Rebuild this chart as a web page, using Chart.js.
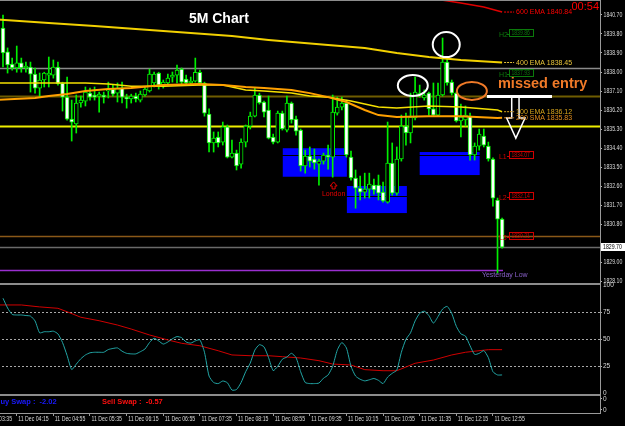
<!DOCTYPE html>
<html>
<head>
<meta charset="utf-8">
<script src="https://cdn.jsdelivr.net/npm/chart.js@4.4.1/dist/chart.umd.min.js"></script>
<style>
  html, body { margin: 0; padding: 0; background: #000; width: 625px; height: 426px; overflow: hidden; }
  #wrap { position: absolute; left: -30px; top: 0; width: 655px; height: 426px; }
</style>
</head>
<body>
<div id="wrap"><canvas id="chart" width="655" height="426"></canvas></div>
<script>
// 5 minute bars, 11 Dec 04:00 .. 13:05 (index 0 .. 109)
const OPEN = [1840.08,1838.95,1838.38,1838.19,1838.43,1838.19,1838.23,1837.90,1837.24,1837.62,
  1837.85,1837.85,1838.23,1837.48,1836.81,1835.77,1835.54,1836.53,1836.62,1837.00,
  1836.91,1836.86,1836.91,1837.10,1837.19,1837.00,1837.24,1836.81,1836.72,1836.86,
  1836.67,1836.91,1837.10,1837.48,1837.95,1837.38,1837.48,1837.76,1837.85,1838.14,
  1837.66,1837.48,1837.57,1837.99,1837.48,1836.01,1834.64,1834.92,1834.68,1835.40,
  1833.97,1834.16,1833.64,1834.68,1835.44,1835.91,1836.91,1836.58,1836.20,1834.92,
  1834.68,1836.05,1835.25,1836.53,1835.77,1835.25,1833.55,1834.02,1833.88,1833.64,
  1833.78,1834.07,1833.97,1836.05,1836.34,1836.53,1833.97,1832.98,1832.50,1832.31,
  1832.45,1832.64,1832.64,1832.31,1831.84,1833.69,1832.26,1833.88,1835.44,1835.11,
  1835.82,1836.91,1836.77,1837.00,1836.25,1835.96,1836.91,1838.47,1837.52,1837.00,
  1835.68,1835.73,1835.91,1834.07,1834.49,1834.97,1834.49,1833.88,1831.94,1831.03];
const HIGH = [1840.70,1839.14,1838.66,1839.23,1838.66,1838.47,1838.47,1838.19,1837.95,1837.99,
  1838.71,1838.57,1838.47,1837.52,1837.76,1836.67,1836.91,1836.86,1837.29,1837.24,
  1837.29,1837.05,1837.05,1837.52,1837.38,1837.48,1837.52,1836.95,1836.95,1837.00,
  1837.10,1837.29,1838.14,1838.00,1837.99,1837.62,1837.90,1838.00,1838.33,1838.19,
  1837.85,1837.76,1838.66,1838.09,1837.52,1836.25,1835.16,1835.16,1835.63,1835.49,
  1834.78,1834.30,1834.83,1835.49,1836.10,1837.24,1837.00,1836.62,1836.86,1835.06,
  1836.15,1836.15,1836.86,1836.58,1835.91,1835.30,1834.30,1834.45,1834.35,1833.88,
  1834.16,1834.54,1836.91,1836.81,1836.81,1836.67,1834.26,1833.36,1833.07,1833.21,
  1833.21,1832.93,1833.12,1832.79,1835.63,1834.64,1834.45,1835.96,1836.05,1837.00,
  1837.76,1837.38,1837.15,1837.05,1837.48,1837.48,1839.61,1838.66,1837.62,1837.05,
  1836.48,1836.39,1836.05,1834.64,1835.30,1835.30,1834.68,1833.93,1832.03,1831.08];
const LOW = [1838.24,1837.95,1838.09,1837.99,1837.99,1837.99,1837.05,1837.00,1836.81,1837.29,
  1837.29,1837.71,1837.38,1836.15,1835.72,1834.73,1835.11,1836.34,1836.39,1836.67,
  1836.67,1836.10,1836.53,1836.77,1836.86,1836.58,1836.53,1836.29,1836.53,1836.58,
  1836.58,1836.86,1837.05,1837.29,1837.19,1837.24,1837.38,1837.52,1837.48,1837.38,
  1837.38,1837.38,1837.52,1837.38,1835.91,1834.21,1834.21,1834.45,1834.54,1833.93,
  1833.93,1833.36,1833.45,1834.45,1835.30,1835.87,1836.48,1835.87,1834.83,1834.59,
  1834.64,1835.25,1835.16,1835.58,1835.01,1833.31,1833.21,1833.50,1833.40,1832.64,
  1833.64,1833.40,1833.02,1835.96,1836.20,1833.97,1832.88,1831.55,1831.94,1832.03,
  1832.03,1832.22,1831.94,1831.84,1831.79,1832.17,1832.17,1833.78,1834.54,1834.64,
  1835.73,1836.81,1836.67,1835.96,1835.91,1835.91,1836.86,1837.38,1836.91,1835.63,
  1834.92,1835.44,1833.83,1833.83,1834.30,1834.45,1833.78,1831.65,1828.48,1829.66];
const CLOSE = [1838.90,1838.33,1838.19,1838.43,1838.19,1838.28,1837.90,1837.24,1837.62,1837.95,
  1837.95,1838.23,1837.43,1836.81,1835.77,1835.63,1836.53,1836.67,1837.05,1836.81,
  1836.81,1836.95,1836.81,1837.19,1836.95,1837.24,1836.81,1836.72,1836.86,1836.72,
  1836.95,1837.19,1837.90,1837.90,1837.38,1837.52,1837.71,1837.85,1838.09,1837.52,
  1837.48,1837.57,1837.99,1837.48,1836.05,1834.64,1834.87,1834.64,1835.40,1833.97,
  1834.16,1833.55,1834.68,1835.44,1835.91,1836.91,1836.53,1836.10,1834.87,1834.68,
  1836.05,1835.30,1836.53,1835.73,1835.20,1833.55,1834.02,1833.78,1833.69,1833.78,
  1834.07,1833.97,1836.10,1836.34,1836.53,1834.07,1832.98,1832.50,1832.31,1832.45,
  1832.69,1832.41,1832.26,1831.89,1833.69,1832.26,1833.88,1835.44,1835.11,1835.87,
  1837.05,1837.00,1836.91,1836.25,1835.96,1836.91,1838.47,1837.48,1837.00,1835.68,
  1835.87,1835.96,1834.07,1834.49,1835.06,1834.54,1833.88,1832.03,1831.03,1829.70];

// moving averages, read at a few bar indices
const EMA600_IDX = [60, 80, 93, 100, 105, 109];
const EMA600 = [1842.30, 1841.80, 1841.50, 1841.27, 1841.08, 1840.84];
const EMA400_IDX = [-2, 10, 20, 32, 50, 58, 71, 79, 86, 93, 100, 109];
const EMA400 = [1840.50, 1840.32, 1840.18, 1839.99, 1839.70, 1839.52, 1839.28, 1839.14, 1838.90, 1838.71, 1838.57, 1838.45];
const EMA100_IDX = [-2, 10, 18, 23, 28, 35, 43, 48, 53, 57, 63, 67, 71, 76, 79, 82, 86, 93, 100, 108, 109];
const EMA100 = [1837.48, 1837.48, 1837.48, 1837.43, 1837.33, 1837.33, 1837.38, 1837.38, 1837.15, 1837.10, 1837.00,
  1836.86, 1836.81, 1836.63, 1836.48, 1836.34, 1836.29, 1836.39, 1836.34, 1836.20, 1836.12];
const SMA200_IDX = [-2, 7, 10, 14, 18, 23, 28, 35, 43, 48, 53, 57, 63, 67, 71, 75, 79, 82, 86, 93, 100, 108, 109];
const SMA200 = [1836.67, 1836.77, 1836.86, 1836.96, 1837.10, 1837.19, 1837.24, 1837.38, 1837.43, 1837.38, 1837.29, 1837.24,
  1837.15, 1837.00, 1836.81, 1836.58, 1836.20, 1835.96, 1835.87, 1835.91, 1835.91, 1835.82, 1835.83];

// oscillator pane
const FAST = [88,79,73,72.5,72.5,72,71.5,67,56,57, 57,57.5,55,47,35,22,27,32,35.5,37.5,
  38,38,38,40.5,41.5,42,39,37,36.5,36.5, 38.5,41,47,51,48.5,45.6,47.5,50.5,52.5,51.5,
  47.5,46.5,48.5,49.5,38,16,10,9,11.4,9.8, 3,3.5,10,20,28,40,45,43,33,21,
  25,31.5,33.6,37,33,20,10,9,9,9.5, 14,17,25,40,47,42,25,16,13,11.5,
  12.5,13.7,12,9,15,18.5,21.5,38,50,56, 67,74,76,72,65,71,78,80.5,74,62,
  55,53,44,36,37,39.5,33,20,17,17];
const SLOW_IDX = [-2, 4, 8, 12, 14, 17, 21, 25, 28, 32, 36, 39, 43, 47, 50, 54, 58, 61, 65, 69, 72, 76, 79, 83, 86, 90, 94, 98, 101, 106, 109];
const SLOW = [81.8, 81.8, 80, 78.7, 75.5, 70.4, 67.2, 63.2, 59.5, 54, 49.4, 46.3, 44, 39.4, 35.5, 34.8, 34.8, 33.9, 32.7, 30.2,
  27.1, 26.2, 21.9, 20.9, 20.9, 27.8, 30.8, 35.5, 38, 40.4, 40.4];

// levels and zones
const LEVELS = [1838.20, 1836.86, 1835.44, 1834.07, 1832.14, 1830.21, 1829.70];
const YESTERDAY_LOW = 1828.62;
const BOX_FROM = [61.1, 75.1, 91.0];
const BOX_TO = [75.1, 88.2, 104.1];
const BOX_HIGH = [1834.39, 1832.60, 1834.21];
const BOX_LOW = [1833.04, 1831.32, 1833.12];
const PIVOT_NAMES = ['H2', 'H1', 'L1', 'L2', 'L3'];
const PIVOTS = [1839.86, 1837.93, 1834.07, 1832.14, 1830.21];
const MA_NAMES = ['600 EMA', '400 EMA', '100 EMA', '200 SMA'];
const BID = 1829.70;

const PRICE_TICKS = [1840.70,1839.80,1838.90,1838.00,1837.10,1836.20,1835.30,1834.40,1833.50,1832.60,1831.70,1830.80,1829.00,1828.10];
const OSC_TICKS = [0, 25, 50, 75, 100];
const TICK_POS = [-5, 3, 11, 19, 27, 35, 43, 51, 59, 67, 75, 83, 91, 99, 107];
const TICK_LABELS = ['11 Dec 03:35','11 Dec 04:15','11 Dec 04:55','11 Dec 05:35','11 Dec 06:15','11 Dec 06:55','11 Dec 07:35',
  '11 Dec 08:15','11 Dec 08:55','11 Dec 09:35','11 Dec 10:15','11 Dec 10:55','11 Dec 11:35','11 Dec 12:15','11 Dec 12:55'];

// hand drawn marks, anchored in bar index / price
const CIRCLE_IDX = [96.8, 89.5];
const CIRCLE_PRICE = [1839.30, 1837.36];
const MISSED_IDX = 102.4, MISSED_PRICE = 1837.10;
const ARROW_IDX = [111.1, 111.1, 110.0, 112.0, 114.0, 112.7, 112.7];
const ARROW_PRICE = [1836.77, 1835.82, 1835.82, 1834.87, 1835.82, 1835.82, 1836.77];

const SANS = "'Liberation Sans', Arial, sans-serif";
const idx = OPEN.map((_, i) => i);
const pts = (xs, ys) => xs.map((x, k) => ({ x: x, y: ys[k] }));

// terminal fonts are narrow, so squeeze the text horizontally
function squeeze(ctx, text, px, py, sx) {
  ctx.save();
  ctx.translate(px, py);
  ctx.scale(sx, 1);
  ctx.fillText(text, 0, 0);
  ctx.restore();
}

const overlay = {
  id: 'overlay',
  beforeDatasetsDraw(chart) {
    const { ctx, chartArea: a, scales: { x, yp } } = chart;
    ctx.save();
    ctx.beginPath();
    ctx.rect(a.left, yp.top, a.right - a.left, yp.bottom - yp.top);
    ctx.clip();
    ctx.fillStyle = '#0000ff';
    BOX_FROM.forEach((f, k) => {
      const x1 = x.getPixelForValue(f), x2 = x.getPixelForValue(BOX_TO[k]);
      const y1 = yp.getPixelForValue(BOX_HIGH[k]), y2 = yp.getPixelForValue(BOX_LOW[k]);
      ctx.fillRect(x1, y1, x2 - x1, y2 - y1);
    });
    const styles = [['#8a8a8a', 1.5], ['#6e5c00', 2], ['#eeee00', 2], ['#000000', 1], ['#000000', 1], ['#8a5818', 1.5], ['#6a6a6a', 1.5]];
    LEVELS.forEach((p, k) => {
      const y = Math.round(yp.getPixelForValue(p)) + 0.5;
      ctx.strokeStyle = styles[k][0];
      ctx.lineWidth = styles[k][1];
      ctx.beginPath(); ctx.moveTo(a.left, y); ctx.lineTo(a.right, y); ctx.stroke();
    });
    const yl = Math.round(yp.getPixelForValue(YESTERDAY_LOW)) + 0.5;
    ctx.strokeStyle = '#9a2fd0'; ctx.lineWidth = 1.5;
    ctx.beginPath(); ctx.moveTo(a.left, yl); ctx.lineTo(x.getPixelForValue(OPEN.length - 0.8), yl); ctx.stroke();
    ctx.restore();
  },
  afterDatasetsDraw(chart) {
    const { ctx, scales: { x, yp } } = chart;
    const last = OPEN.length - 1;
    ctx.save();
    // circles round the spikes
    ctx.strokeStyle = '#ffffff'; ctx.lineWidth = 2;
    CIRCLE_IDX.forEach((c, k) => {
      ctx.beginPath();
      ctx.ellipse(x.getPixelForValue(c), yp.getPixelForValue(CIRCLE_PRICE[k]), k ? 15 : 13.5, k ? 10.5 : 12.5, 0, 0, Math.PI * 2);
      ctx.stroke();
    });
    ctx.strokeStyle = '#f07a28';
    ctx.beginPath();
    ctx.ellipse(x.getPixelForValue(MISSED_IDX), yp.getPixelForValue(MISSED_PRICE), 15, 9, 0, 0, Math.PI * 2);
    ctx.stroke();
    // white entry line and arrow
    const ye = yp.getPixelForValue(LEVELS[1]) + 0.5;
    ctx.strokeStyle = '#ffffff'; ctx.lineWidth = 3;
    ctx.beginPath(); ctx.moveTo(x.getPixelForValue(MISSED_IDX) + 15, ye); ctx.lineTo(x.getPixelForValue(119.9), ye); ctx.stroke();
    ctx.lineWidth = 1.5;
    ctx.beginPath();
    ARROW_IDX.forEach((v, k) => {
      const px = x.getPixelForValue(v), py = yp.getPixelForValue(ARROW_PRICE[k]);
      k ? ctx.lineTo(px, py) : ctx.moveTo(px, py);
    });
    ctx.stroke();
    ctx.fillStyle = '#f07a28';
    ctx.font = 'bold 14.5px ' + SANS;
    ctx.textBaseline = 'alphabetic';
    ctx.fillText('missed entry', x.getPixelForValue(108.1), yp.getPixelForValue(1837.24));
    // title
    ctx.fillStyle = '#ffffff';
    ctx.font = 'bold 14px ' + SANS;
    ctx.fillText('5M Chart', x.getPixelForValue(40.6), yp.getPixelForValue(1840.32));
    // london marker
    const lx = x.getPixelForValue(72.2), ly = yp.getPixelForValue(1832.13);
    ctx.fillStyle = '#e80000';
    ctx.font = '7px ' + SANS;
    ctx.textAlign = 'center';
    ctx.fillText('London', lx, ly);
    ctx.strokeStyle = '#e80000'; ctx.lineWidth = 1;
    ctx.beginPath();
    ctx.moveTo(lx - 1.5, ly - 7); ctx.lineTo(lx - 1.5, ly - 10); ctx.lineTo(lx - 3.5, ly - 10);
    ctx.lineTo(lx, ly - 14); ctx.lineTo(lx + 3.5, ly - 10); ctx.lineTo(lx + 1.5, ly - 10); ctx.lineTo(lx + 1.5, ly - 7);
    ctx.closePath(); ctx.stroke();
    ctx.textAlign = 'left';
    // yesterday low
    ctx.fillStyle = '#8860c8';
    ctx.font = '7px ' + SANS;
    ctx.textBaseline = 'middle';
    ctx.fillText('Yesterday Low', x.getPixelForValue(104.6), yp.getPixelForValue(YESTERDAY_LOW) + 4.5);
    // moving average labels
    const maLast = [EMA600[EMA600.length - 1], EMA400[EMA400.length - 1], EMA100[EMA100.length - 1], SMA200[SMA200.length - 1]];
    const maCol = ['#ff0000', '#e8c43a', '#d8a61c', '#e28c1c'];
    const x0 = x.getPixelForValue(last) + 2;
    maLast.forEach((v, k) => {
      const y = yp.getPixelForValue(v);
      ctx.strokeStyle = maCol[k]; ctx.lineWidth = 1; ctx.setLineDash([2, 1]);
      ctx.beginPath(); ctx.moveTo(x0, y); ctx.lineTo(x0 + 10, y); ctx.stroke();
      ctx.setLineDash([]);
      ctx.fillStyle = maCol[k];
      ctx.font = '7px ' + SANS;
      ctx.fillText(MA_NAMES[k] + ' ' + v.toFixed(2), x0 + 12, y + 0.5);
    });
    // pivot tags
    PIVOTS.forEach((p, k) => {
      const y = Math.round(yp.getPixelForValue(p));
      const col = k < 2 ? '#0b7a0b' : '#d00000';
      const bx = x.getPixelForValue(110.5);
      ctx.strokeStyle = col; ctx.lineWidth = 1;
      ctx.strokeRect(Math.round(bx) + 0.5, y - 3.5, 24, 7);
      ctx.beginPath(); ctx.moveTo(bx - 2, y + 1.5); ctx.lineTo(bx, y + 1.5); ctx.stroke();
      ctx.fillStyle = col;
      ctx.font = '6.5px ' + SANS;
      squeeze(ctx, p.toFixed(2), bx + 2.5, y + 0.5, 0.78);
      ctx.font = '7px ' + SANS;
      ctx.fillText(PIVOT_NAMES[k], bx - 10, y + 2.5);
    });
    ctx.restore();
  },
  afterDraw(chart) {
    const { ctx, chartArea: a, scales: { x, yp, yo, ys } } = chart;
    ctx.save();
    ctx.strokeStyle = '#8c8c8c'; ctx.lineWidth = 2;
    [yp.bottom, yo.bottom].forEach(y => {
      ctx.beginPath(); ctx.moveTo(a.left, y); ctx.lineTo(a.right, y); ctx.stroke();
    });
    ctx.lineWidth = 1;
    ctx.beginPath(); ctx.moveTo(a.left, 0.5); ctx.lineTo(a.right, 0.5); ctx.stroke();
    // axis labels
    ctx.fillStyle = '#d8d8d8';
    ctx.textBaseline = 'middle';
    ctx.font = '7px ' + SANS;
    TICK_POS.forEach((v, k) => squeeze(ctx, TICK_LABELS[k], x.getPixelForValue(v) + 1.5, x.top + 6.5, 0.74));
    ctx.font = '6.5px ' + SANS;
    PRICE_TICKS.forEach(v => squeeze(ctx, v.toFixed(2), yp.left + 3.5, yp.getPixelForValue(v) + 0.5, 0.8));
    // bid tag
    const yb = Math.round(yp.getPixelForValue(BID));
    ctx.fillStyle = '#ffffff';
    ctx.fillRect(a.right + 1, yb - 4, 24, 8);
    ctx.fillStyle = '#000000';
    squeeze(ctx, BID.toFixed(2), a.right + 3, yb + 0.5, 0.8);
    // clock
    ctx.fillStyle = '#ff0000';
    ctx.font = '11px ' + SANS;
    ctx.textAlign = 'right';
    ctx.textBaseline = 'alphabetic';
    ctx.fillText('00:54', a.right - 1, yp.getPixelForValue(1840.96));
    // swap line
    ctx.textAlign = 'left';
    ctx.textBaseline = 'middle';
    ctx.font = 'bold 7.5px ' + SANS;
    ctx.fillStyle = '#1a1aff';
    ctx.fillText('Buy Swap :  -2.02', x.getPixelForValue(-1.75), ys.getPixelForValue(0.64));
    ctx.fillStyle = '#ff1010';
    ctx.fillText('Sell Swap :  -0.57', x.getPixelForValue(21.6), ys.getPixelForValue(0.64));
    ctx.restore();
  }
};

const fitY = s => { s.width = 25; s.paddingTop = 0; s.paddingBottom = 0; };
const axisFont = { family: SANS, size: 6.5 };

new Chart(document.getElementById('chart'), {
  type: 'bar',
  data: {
    datasets: [
      { type: 'bar', data: idx.map(i => ({ x: i, y: [LOW[i], HIGH[i]] })), yAxisID: 'yp', grouped: false,
        barThickness: 1, backgroundColor: '#00f000', order: 4 },
      { type: 'bar', data: idx.map(i => ({ x: i, y: [OPEN[i], CLOSE[i]] })), yAxisID: 'yp', grouped: false,
        barThickness: 4, borderWidth: 1, borderSkipped: false, borderColor: '#00f000',
        backgroundColor: idx.map(i => CLOSE[i] < OPEN[i] ? '#ffffff' : '#000000'), order: 3 },
      { type: 'line', data: pts(EMA600_IDX, EMA600), yAxisID: 'yp', borderColor: '#e00000', borderWidth: 1.5, pointRadius: 0, order: 2 },
      { type: 'line', data: pts(EMA400_IDX, EMA400), yAxisID: 'yp', borderColor: '#f2d000', borderWidth: 2, pointRadius: 0, order: 2 },
      { type: 'line', data: pts(SMA200_IDX, SMA200), yAxisID: 'yp', borderColor: '#ffa000', borderWidth: 2, pointRadius: 0, order: 2 },
      { type: 'line', data: pts(EMA100_IDX, EMA100), yAxisID: 'yp', borderColor: '#f5e000', borderWidth: 1.5, pointRadius: 0, order: 2 },
      { type: 'line', data: pts(SLOW_IDX, SLOW), yAxisID: 'yo', borderColor: '#d00000', borderWidth: 1, pointRadius: 0, order: 1 },
      { type: 'line', data: idx.map(i => ({ x: i, y: FAST[i] })), yAxisID: 'yo', borderColor: '#22a6a6', borderWidth: 1,
        pointRadius: 0, tension: 0.2, order: 0 }
    ]
  },
  options: {
    responsive: false,
    animation: false,
    devicePixelRatio: 1,
    layout: { padding: 0 },
    plugins: { legend: { display: false }, tooltip: { enabled: false } },
    scales: {
      x: {
        type: 'linear', position: 'bottom', min: -7.207, max: 130.38, offset: false,
        afterBuildTicks: s => { s.ticks = TICK_POS.map(v => ({ value: v })); },
        afterFit: s => { s.height = 13; s.paddingLeft = 0; s.paddingRight = 0; },
        ticks: { display: false },
        grid: { offset: false, drawOnChartArea: false, drawTicks: true, tickLength: 3, color: '#9a9a9a' },
        border: { color: '#9a9a9a', width: 1 }
      },
      yp: {
        type: 'linear', position: 'right', stack: 'r', stackWeight: 284, min: 1827.96, max: 1841.41,
        afterBuildTicks: s => { s.ticks = PRICE_TICKS.map(v => ({ value: v })); },
        afterFit: fitY,
        ticks: { display: false },
        grid: { drawOnChartArea: false, tickLength: 2, color: '#b0b0b0' },
        border: { color: '#9a9a9a', width: 1 }
      },
      yo: {
        type: 'linear', position: 'right', stack: 'r', stackWeight: 111, min: -1.57, max: 101.2,
        afterBuildTicks: s => { s.ticks = OSC_TICKS.map(v => ({ value: v })); },
        afterFit: fitY,
        ticks: { font: axisFont, color: '#d8d8d8', padding: 1, autoSkip: false },
        grid: { tickLength: 2, color: c => (c.tick && c.tick.value > 0 && c.tick.value < 100) ? '#a8a8a8' : 'rgba(0,0,0,0)' },
        border: { color: '#9a9a9a', width: 1, dash: [2, 2] }
      },
      ys: {
        type: 'linear', position: 'right', stack: 'r', stackWeight: 18, min: 0, max: 1,
        afterBuildTicks: s => { s.ticks = [0.17, 0.78].map(v => ({ value: v })); },
        afterFit: fitY,
        ticks: { callback: () => '0', font: axisFont, color: '#d8d8d8', padding: 1, autoSkip: false },
        grid: { drawOnChartArea: false, tickLength: 2, color: '#b0b0b0' },
        border: { color: '#9a9a9a', width: 1 }
      }
    }
  },
  plugins: [overlay]
});
</script>
</body>
</html>
